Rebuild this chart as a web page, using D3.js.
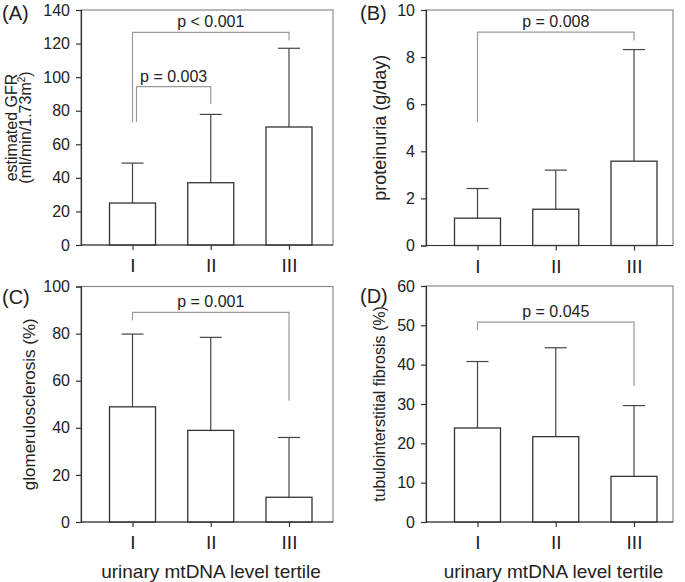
<!DOCTYPE html>
<html>
<head>
<meta charset="utf-8">
<script src="https://cdn.jsdelivr.net/npm/d3@7"></script>
<style>
  html, body { margin: 0; padding: 0; background: #fff; }
  svg { display: block; }
  text { font-family: "Liberation Sans", Arial, sans-serif; fill: #222; }
</style>
</head>
<body>
<svg id="chart" width="685" height="582"></svg>
<script>
// ---------------- data ----------------
const categories = ["I", "II", "III"];

const gfrMean  = [25.0, 37.1, 70.3];
const gfrUpper = [48.8, 77.8, 117.2];
const gfrTicks = [0, 20, 40, 60, 80, 100, 120, 140];

const protMean  = [1.16, 1.54, 3.58];
const protUpper = [2.42, 3.2, 8.32];
const protTicks = [0, 2, 4, 6, 8, 10];

const gsMean  = [48.9, 38.9, 10.5];
const gsUpper = [79.8, 78.4, 35.9];
const gsTicks = [0, 20, 40, 60, 80, 100];

const tifMean  = [23.9, 21.7, 11.6];
const tifUpper = [40.8, 44.3, 29.6];
const tifTicks = [0, 10, 20, 30, 40, 50, 60];

const gfrBrackets = [
  { from: 0, to: 2, top: 126.7, leftEnd: 73.0, rightEnd: 122.0, label: "p < 0.001" },
  { from: 0, to: 1, top: 94.3,  leftEnd: 73.5, rightEnd: 84.0,  label: "p = 0.003" }
];
const protBrackets = [
  { from: 0, to: 2, top: 9.06, leftEnd: 5.24, rightEnd: 8.7, label: "p = 0.008" }
];
const gsBrackets = [
  { from: 0, to: 2, top: 89.0, leftEnd: 85.6, rightEnd: 51.5, label: "p = 0.001" }
];
const tifBrackets = [
  { from: 0, to: 2, top: 50.8, leftEnd: 48.8, rightEnd: 34.6, label: "p = 0.045" }
];

const xTitle = "urinary mtDNA level tertile";

// ---------------- layout ----------------
const panels = [
  { tag: "(A)", mean: gfrMean, upper: gfrUpper, ticks: gfrTicks, brackets: gfrBrackets,
    yTitle: ["estimated GFR", "(ml/min/1.73m", "2", ")"], box: [81, 10, 333, 245],
    legNudge: [0, 4], showXTitle: false, tagPos: [2, 20], yTitlePos: [16.5, 31], yTitleSize: 16 },
  { tag: "(B)", mean: protMean, upper: protUpper, ticks: protTicks, brackets: protBrackets,
    yTitle: ["proteinuria (g/day)"], box: [426, 10, 673, 245.5],
    legNudge: [0], showXTitle: false, tagPos: [360, 20], yTitlePos: [386], yTitleSize: 18 },
  { tag: "(C)", mean: gsMean, upper: gsUpper, ticks: gsTicks, brackets: gsBrackets,
    yTitle: ["glomerulosclerosis (%)"], box: [81, 286.5, 333, 522],
    legNudge: [0], showXTitle: true, tagPos: [2, 304], yTitlePos: [35], yTitleSize: 17 },
  { tag: "(D)", mean: tifMean, upper: tifUpper, ticks: tifTicks, brackets: tifBrackets,
    yTitle: ["tubulointerstitial fibrosis (%)"], box: [426, 286, 673, 522],
    legNudge: [0], showXTitle: true, tagPos: [360, 303], yTitlePos: [385], yTitleSize: 16 }
];

const svg = d3.select("#chart");
const AXIS = "#333";
const FRAME = "#8a8a8a";
const BRACKET = "#9a9a9a";
const WHISK = "#444";

panels.forEach(p => {
  const [x0, y0, x1, y1] = p.box;
  const g = svg.append("g");
  const x = d3.scalePoint().domain(categories).range([x0 + 51.5, x0 + 208]);
  const ymax = p.ticks[p.ticks.length - 1];
  const y = d3.scaleLinear().domain([0, ymax]).range([y1, y0]);
  const barW = 46, capHalf = 11;

  // frame
  g.append("rect").attr("x", x0).attr("y", y0).attr("width", x1 - x0).attr("height", y1 - y0)
    .attr("fill", "none").attr("stroke", FRAME).attr("stroke-width", 1.2);

  const rows = categories.map((c, i) => ({ c, m: p.mean[i], u: p.upper[i] }));
  // whiskers
  g.selectAll(".wh").data(rows).join("line")
    .attr("x1", d => x(d.c)).attr("x2", d => x(d.c))
    .attr("y1", d => y(d.m)).attr("y2", d => y(d.u))
    .attr("stroke", WHISK).attr("stroke-width", 1.2);
  g.selectAll(".cap").data(rows).join("line")
    .attr("x1", d => x(d.c) - capHalf).attr("x2", d => x(d.c) + capHalf)
    .attr("y1", d => y(d.u)).attr("y2", d => y(d.u))
    .attr("stroke", WHISK).attr("stroke-width", 1.2);
  // bars
  g.selectAll(".bar").data(rows).join("rect")
    .attr("x", d => x(d.c) - barW / 2).attr("width", barW)
    .attr("y", d => y(d.m)).attr("height", d => y(0) - y(d.m))
    .attr("fill", "#fff").attr("stroke", "#333").attr("stroke-width", 1.3);

  // brackets
  p.brackets.forEach((b, k) => {
    const xa = x(categories[b.from]) + (p.legNudge[k] || 0);
    const xb = x(categories[b.to]);
    const path = d3.path();
    path.moveTo(xa, y(b.leftEnd));
    path.lineTo(xa, y(b.top));
    path.lineTo(xb, y(b.top));
    path.lineTo(xb, y(b.rightEnd));
    g.append("path").attr("d", path.toString()).attr("fill", "none")
      .attr("stroke", BRACKET).attr("stroke-width", 1.2);
    g.append("text").attr("x", (xa + xb) / 2).attr("y", y(b.top) - 5)
      .attr("text-anchor", "middle").attr("font-size", 16).text(b.label);
  });

  // axes
  const yAxis = d3.axisLeft(y).tickValues(p.ticks).tickSize(5).tickPadding(6).tickFormat(d3.format("d"));
  const ya = g.append("g").attr("transform", `translate(${x0},0)`).call(yAxis);
  ya.select(".domain").attr("stroke", AXIS).attr("stroke-width", 1.2);
  ya.selectAll(".tick line").attr("stroke", AXIS).attr("stroke-width", 1.2);
  ya.selectAll(".tick text").attr("font-size", 16).attr("fill", "#222")
    .attr("font-family", "Liberation Sans, Arial, sans-serif");

  const xAxis = d3.axisBottom(x).tickSize(5).tickPadding(9);
  const xa = g.append("g").attr("transform", `translate(0,${y1})`).call(xAxis);
  xa.select(".domain").attr("d", `M${x0},0H${x1}`).attr("stroke", AXIS).attr("stroke-width", 1.2);
  xa.selectAll(".tick line").attr("stroke", AXIS).attr("stroke-width", 1.2);
  xa.selectAll(".tick text").attr("font-size", 19).attr("fill", "#222")
    .attr("font-family", "Liberation Sans, Arial, sans-serif");

  // panel tag
  g.append("text").attr("x", p.tagPos[0]).attr("y", p.tagPos[1])
    .attr("font-size", 20).text(p.tag);

  // y title
  const cy = (y0 + y1) / 2;
  const fs = p.yTitleSize;
  g.append("text").attr("transform", `translate(${p.yTitlePos[0]},${cy}) rotate(-90)`)
    .attr("text-anchor", "middle").attr("font-size", fs).text(p.yTitle[0]);
  if (p.yTitle.length > 1) {
    const t2 = g.append("text").attr("transform", `translate(${p.yTitlePos[1]},${cy}) rotate(-90)`)
      .attr("text-anchor", "middle").attr("font-size", fs);
    t2.append("tspan").text(p.yTitle[1]);
    t2.append("tspan").attr("font-size", 10).attr("dy", -6).text(p.yTitle[2]);
    t2.append("tspan").attr("dy", 6).text(p.yTitle[3]);
  }

  if (p.showXTitle) {
    g.append("text").attr("x", (x0 + x1) / 2 + 4).attr("y", 578)
      .attr("text-anchor", "middle").attr("font-size", 19).text(xTitle);
  }
});
</script>
</body>
</html>
